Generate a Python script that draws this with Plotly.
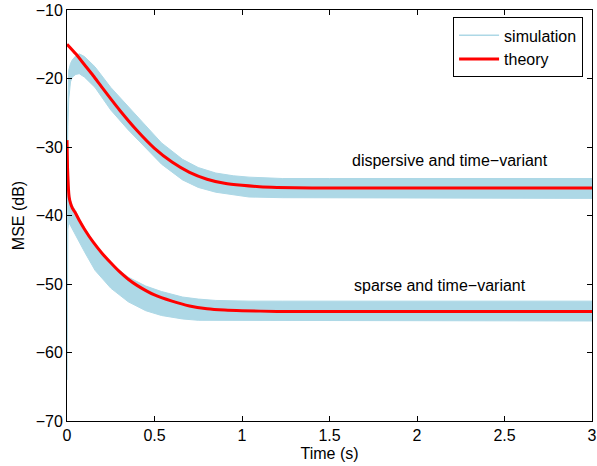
import plotly.graph_objects as go

# ---- data ----
t_disp_theory = [0, 0.05, 0.1, 0.15, 0.2, 0.3, 0.4, 0.5, 0.6, 0.7, 0.8, 0.9, 1.0, 1.1, 1.2, 1.4, 1.6, 2.0, 2.5, 3.0]
disp_theory = [-15.0, -16.4, -18.0, -19.6, -21.3, -24.6, -27.6, -30.2, -32.2, -33.7, -34.7, -35.3, -35.6, -35.8, -35.9, -36.0, -36.0, -36.0, -36.0, -36.0]

t_sparse_theory = [0, 0.003, 0.007, 0.012, 0.02, 0.03, 0.045, 0.07, 0.1, 0.15, 0.2, 0.25, 0.3, 0.35, 0.4, 0.5, 0.6, 0.7, 0.8, 0.9, 1.0, 1.2, 1.6, 2.0, 2.5, 3.0]
sparse_theory = [-29.0, -33.0, -35.5, -37.3, -38.2, -38.9, -39.5, -40.7, -42.0, -43.9, -45.5, -46.9, -48.2, -49.3, -50.2, -51.6, -52.5, -53.2, -53.6, -53.8, -53.9, -54.0, -54.0, -54.0, -54.0, -54.0]

t_sim = [0, 0.005, 0.01, 0.02, 0.03, 0.05, 0.07, 0.1, 0.16, 0.25, 0.35, 0.45, 0.54, 0.66, 0.75, 0.85, 0.95, 1.04, 1.23, 1.5, 2.0, 2.5, 3.0]
disp_sim_upper = [-28.0, -21.0, -18.8, -17.8, -17.3, -16.7, -16.4, -16.8, -18.3, -21.3, -24.1, -27.0, -29.4, -31.8, -33.0, -33.8, -34.2, -34.4, -34.6, -34.6, -34.6, -34.6, -34.6]
disp_sim_lower = [-36.0, -27.0, -23.0, -20.5, -19.8, -19.4, -19.3, -19.8, -21.3, -24.6, -27.5, -30.2, -32.5, -34.8, -35.9, -36.6, -37.0, -37.3, -37.4, -37.5, -37.5, -37.5, -37.5]
sparse_sim_upper = [-26.0, -33.0, -36.0, -37.8, -38.5, -39.4, -40.5, -41.8, -44.2, -47.0, -49.0, -50.3, -51.1, -51.9, -52.2, -52.4, -52.5, -52.5, -52.5, -52.5, -52.5, -52.5, -52.5]
sparse_sim_lower = [-64.0, -42.0, -41.0, -41.5, -42.0, -42.8, -43.8, -45.3, -48.0, -50.6, -52.6, -53.9, -54.6, -55.1, -55.3, -55.4, -55.4, -55.4, -55.4, -55.4, -55.4, -55.4, -55.4]

x_ticks = [0, 0.5, 1, 1.5, 2, 2.5, 3]
x_tick_labels = ["0", "0.5", "1", "1.5", "2", "2.5", "3"]
y_ticks = [-70, -60, -50, -40, -30, -20, -10]

labels = ["dispersive and time\u2212variant", "sparse and time\u2212variant"]
label_pos = [(2.19, -31.9), (2.13, -50.2)]

SIM = "#add8e6"
RED = "#ff0000"
FS = 16

fig = go.Figure()

for up, lo in [(disp_sim_upper, disp_sim_lower), (sparse_sim_upper, sparse_sim_lower)]:
    fig.add_trace(go.Scatter(
        x=t_sim + t_sim[::-1], y=up + lo[::-1],
        fill="toself", fillcolor=SIM, mode="lines",
        line=dict(color=SIM, width=1),
        showlegend=False, hoverinfo="skip"))

# legend-only entry for simulation
fig.add_trace(go.Scatter(x=[None], y=[None], mode="lines",
                         line=dict(color=SIM, width=1.5), name="simulation"))

fig.add_trace(go.Scatter(x=t_disp_theory, y=disp_theory, mode="lines",
                         line=dict(color=RED, width=3, shape="spline", smoothing=0.6),
                         name="theory"))
fig.add_trace(go.Scatter(x=t_sparse_theory, y=sparse_theory, mode="lines",
                         line=dict(color=RED, width=3, shape="spline", smoothing=0.6),
                         showlegend=False))

for txt, (xx, yy) in zip(labels, label_pos):
    fig.add_annotation(x=xx, y=yy, text=txt, showarrow=False,
                       font=dict(size=FS, color="black"))

axis_common = dict(showline=True, linecolor="black", linewidth=1, mirror="allticks",
                   ticks="inside", ticklen=5, tickcolor="black", showgrid=False,
                   zeroline=False, automargin=False,
                   tickfont=dict(size=FS, color="black"))

fig.update_xaxes(range=[0, 3], tickvals=x_ticks, ticktext=x_tick_labels,
                 title=dict(text="Time (s)", standoff=4, font=dict(size=FS, color="black")),
                 **axis_common)
fig.update_yaxes(range=[-70, -10], tickvals=y_ticks,
                 title=dict(text="MSE (dB)", standoff=7, font=dict(size=FS, color="black")),
                 **axis_common)

fig.update_layout(
    width=597, height=466,
    margin=dict(l=67, r=5, t=10, b=45),
    paper_bgcolor="white", plot_bgcolor="white",
    font=dict(family="Liberation Sans, Arial, sans-serif", size=FS, color="black"),
    legend=dict(x=0.983, y=0.982, xanchor="right", yanchor="top",
                bordercolor="black", borderwidth=1, bgcolor="white",
                font=dict(size=FS), tracegroupgap=0, itemwidth=40),
    showlegend=True,
)

fig.write_html("out.html", config={"displayModeBar": False},
               post_script="document.body.style.margin='0';document.body.style.overflow='hidden';")
